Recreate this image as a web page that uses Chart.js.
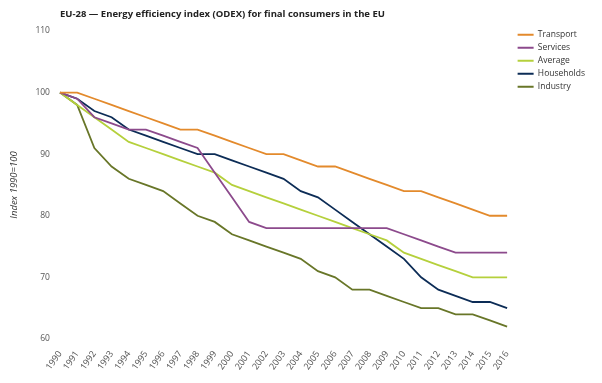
<!DOCTYPE html>
<html>
<head>
<meta charset="utf-8">
<script src="https://cdn.jsdelivr.net/npm/chart.js@4/dist/chart.umd.min.js"></script>
<style>
html, body { margin: 0; padding: 0; background: #fff; }
</style>
</head>
<body>
<canvas id="myChart" width="602" height="383"></canvas>
<script>
const chartTitle = 'EU-28 \u2014 Energy efficiency index (ODEX) for final consumers in the EU';
const axisTitle = 'Index 1990=100';

const years = ['1990','1991','1992','1993','1994','1995','1996','1997','1998','1999','2000','2001','2002',
               '2003','2004','2005','2006','2007','2008','2009','2010','2011','2012','2013','2014','2015','2016'];

const transport  = [100,100,99,98,97,96,95,94,94,93,92,91,90,90,89,88,88,87,86,85,84,84,83,82,81,80,80];
const services   = [100,99,96,95,94,94,93,92,91,87,83,79,78,78,78,78,78,78,78,78,77,76,75,74,74,74,74];
const average    = [100,98,96,94,92,91,90,89,88,87,85,84,83,82,81,80,79,78,77,76,74,73,72,71,70,70,70];
const households = [100,99,97,96,94,93,92,91,90,90,89,88,87,86,84,83,81,79,77,75,73,70,68,67,66,66,65];
const industry   = [100,98,91,88,86,85,84,82,80,79,77,76,75,74,73,71,70,68,68,67,66,65,65,64,64,63,62];

const yTicks = [60, 70, 80, 90, 100, 110];

const smallFont = 'Open Sans';

// title sits over the plot's left edge, not the canvas edge
const leftTitle = {
    id: 'leftTitle',
    afterDraw(chart) {
        const c = chart.ctx;
        c.save();
        c.font = 'bold 9.5px "Open Sans"';
        c.fillStyle = '#222';
        c.textBaseline = 'alphabetic';
        c.fillText(chartTitle, chart.chartArea.left, 16.5);
        c.restore();
    }
};

// nudge the legend a bit right and up, the library has no offset option for it
const legendNudge = {
    id: 'legendNudge',
    afterLayout(chart) {
        const lg = chart.legend;
        lg.left += 6;
        lg.right += 6;
        lg.top -= 5;
        lg.bottom -= 5;
    }
};

const mkSet = (label, values, color) => ({
    label: label,
    data: values,
    borderColor: color,
    backgroundColor: color,
    borderWidth: 1.8,
    pointRadius: 0,
    tension: 0,
    fill: false
});

var ctx = document.getElementById('myChart').getContext('2d');
var chart = new Chart(ctx, {
    type: 'line',
    data: {
        labels: years,
        datasets: [
            mkSet('Transport', transport, '#e38a2c'),
            mkSet('Services', services, '#8c4a8c'),
            mkSet('Average', average, '#b5d03c'),
            mkSet('Households', households, '#0c2c56'),
            mkSet('Industry', industry, '#687628')
        ]
    },
    plugins: [leftTitle, legendNudge],
    options: {
        responsive: false,
        animation: false,
        layout: {
            padding: { top: 31, left: 4, right: 13, bottom: 1 }
        },
        scales: {
            x: {
                grid: { display: false, drawTicks: false },
                border: { display: false },
                ticks: {
                    autoSkip: false,
                    minRotation: 55,
                    maxRotation: 55,
                    padding: 10,
                    color: '#555',
                    font: { family: smallFont, size: 9 }
                }
            },
            y: {
                min: 60,
                max: 110,
                afterBuildTicks: (axis) => { axis.ticks = yTicks.map(v => ({ value: v })); },
                grid: { display: false, drawTicks: false },
                border: { display: false },
                ticks: {
                    padding: 10,
                    color: '#555',
                    font: { family: smallFont, size: 8.5 }
                },
                title: {
                    display: true,
                    text: axisTitle,
                    color: '#333',
                    font: { family: smallFont, size: 9.5, style: 'italic' },
                    padding: { top: 5, bottom: 5 }
                }
            }
        },
        plugins: {
            title: { display: false },
            tooltip: { enabled: false },
            legend: {
                position: 'right',
                align: 'start',
                labels: {
                    boxWidth: 16,
                    boxHeight: 2,
                    padding: 4.5,
                    color: '#333',
                    font: { family: smallFont, size: 8.5 },
                    generateLabels: (ch) => Chart.defaults.plugins.legend.labels.generateLabels(ch)
                        .map(l => Object.assign(l, { lineWidth: 0, fillStyle: l.strokeStyle }))
                }
            }
        }
    }
});
</script>
</body>
</html>
